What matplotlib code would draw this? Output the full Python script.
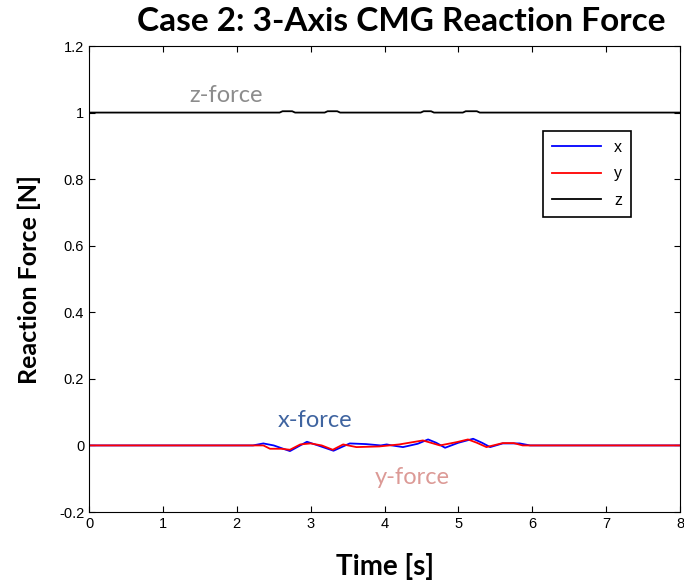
import numpy as np
import matplotlib
matplotlib.use('agg')
import matplotlib.pyplot as plt

# force traces (time in s, force in N)
t_x = [0, 2.22, 2.36, 2.5, 2.72, 2.95, 3.1, 3.31, 3.53, 3.75, 3.95, 4.03, 4.1, 4.25, 4.45,
       4.59, 4.7, 4.82, 5.0, 5.2, 5.32, 5.43, 5.6, 5.83, 5.97, 8]
f_x = [0, 0, 0.006, 0.0, -0.017, 0.011, 0.0, -0.016, 0.006, 0.004, 0.0, 0.003, 0.0, -0.005, 0.005,
       0.018, 0.008, -0.007, 0.008, 0.02, 0.008, -0.005, 0.006, 0.006, 0, 0]
t_y = [0, 2.3, 2.36, 2.45, 2.6, 2.72, 2.86, 3.0, 3.15, 3.3, 3.44, 3.62, 3.93, 4.2, 4.52,
       4.75, 4.98, 5.13, 5.25, 5.38, 5.6, 5.75, 5.87, 8]
f_y = [0, 0, 0.0, -0.01, -0.01, -0.013, 0.003, 0.006, 0.0, -0.013, 0.003, -0.005, -0.003, 0.003, 0.015,
       0.0, 0.01, 0.018, 0.008, -0.005, 0.007, 0.007, 0, 0]
t_z = [0, 2.58, 2.62, 2.75, 2.79, 3.19, 3.23, 3.36, 3.4, 4.49, 4.53, 4.63, 4.67, 5.06, 5.1, 5.25, 5.29, 8]
f_z = [1, 1, 1.004, 1.004, 1, 1, 1.004, 1.004, 1, 1, 1.004, 1.004, 1, 1, 1.004, 1.004, 1, 1]

fig = plt.figure(figsize=(6.84, 5.86), dpi=100)
ax = fig.add_axes([89 / 684, 1 - 512 / 586, 591 / 684, 466 / 586])

ax.plot(t_x, f_x, color='#0000ff', lw=1.3, label='x')
ax.plot(t_y, f_y, color='#ff0000', lw=1.3, label='y')
ax.plot(t_z, f_z, color='black', lw=1.3, label='z')

ax.set_xlim(0, 8)
ax.set_ylim(-0.2, 1.2)
ax.set_xticks(range(0, 9))
ax.set_yticks(np.round(np.arange(-0.2, 1.21, 0.2), 1))
ax.set_yticklabels(['-0.2', '0', '0.2', '0.4', '0.6', '0.8', '1', '1.2'])
ax.tick_params(direction='in', top=True, right=True, length=4, labelsize=10.5)
for lab in ax.get_xticklabels() + ax.get_yticklabels():
    lab.set_family('Liberation Sans')

ax.set_title('Case 2: 3-Axis CMG Reaction Force', fontsize=24, fontweight='bold',
             family='Lato', pad=11, x=0.529)
ax.set_xlabel('Time [s]', fontsize=20, fontweight='bold', family='Lato', labelpad=16)
ax.set_ylabel('Reaction Force [N]', fontsize=18, fontweight='bold', family='Lato', labelpad=13)

ax.text(1.85, 1.052, 'z-force', color='#8c8c8c', fontsize=17, ha='center', va='center', family='Lato')
ax.text(3.06, 0.076, 'x-force', color='#3f64a0', fontsize=17, ha='center', va='center', family='Lato')
ax.text(4.38, -0.095, 'y-force', color='#dc9a96', fontsize=17, ha='center', va='center', family='Lato')

leg = ax.legend(loc='upper right', bbox_to_anchor=(0.917, 0.8176), borderaxespad=0,
                fancybox=False, framealpha=1, edgecolor='black', handlelength=3.1,
                labelspacing=0.72, borderpad=0.55,
                prop={'family': 'Liberation Sans', 'size': 11.5})
leg.get_frame().set_linewidth(1.2)

plt.savefig('out.png', dpi=100)
